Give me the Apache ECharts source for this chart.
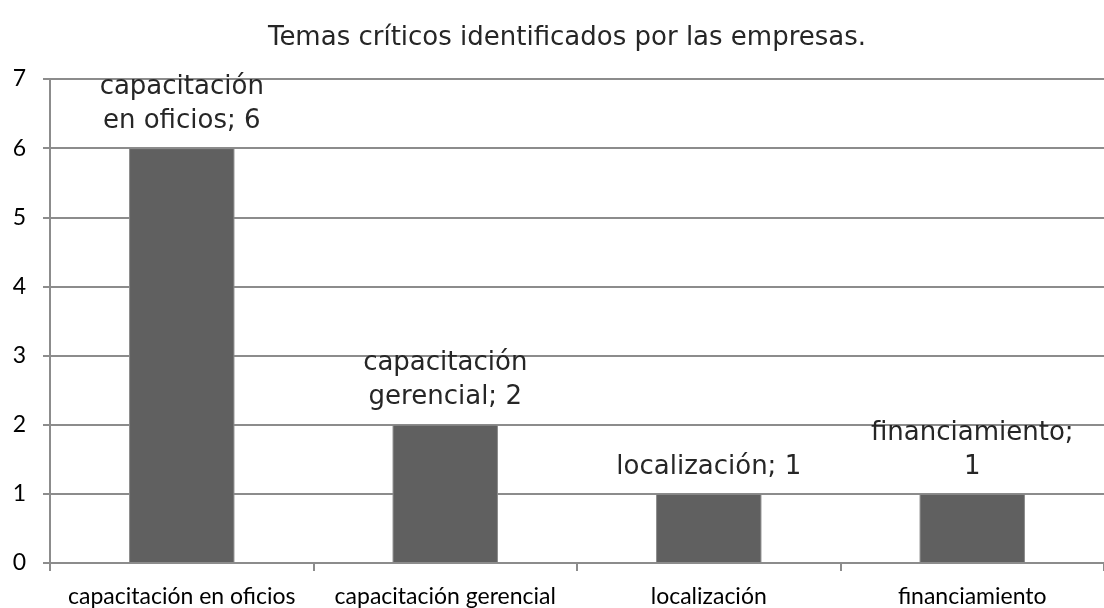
<!DOCTYPE html>
<html>
<head>
<meta charset="utf-8">
<script src="https://cdn.jsdelivr.net/npm/echarts@6/dist/echarts.min.js"></script>
<style>
  html, body { margin: 0; padding: 0; background: #fff; }
  #chart { width: 1104px; height: 608px; }
</style>
</head>
<body>
<div id="chart"></div>
<script>
var titulo = 'Temas críticos identificados por las empresas.';
var categorias = ['capacitación en oficios', 'capacitación gerencial', 'localización', 'financiamiento'];
var valores = [6, 2, 1, 1];
var etiquetas = ['capacitación\nen oficios; ', 'capacitación\ngerencial; ', 'localización; ', 'financiamiento;\n'];
var ejeY = { min: 0, max: 7, interval: 1 };

var myChart = echarts.init(document.getElementById('chart'));

var option = {
  animation: false,
  title: {
    text: titulo,
    left: 562,
    top: 20,
    textAlign: 'center',
    textStyle: {
      fontFamily: 'DejaVu Sans',
      fontWeight: 'normal',
      fontSize: 26,
      color: '#262626'
    }
  },
  grid: {
    left: 50,
    right: -10,
    top: 79,
    bottom: 45,
    containLabel: false
  },
  xAxis: {
    type: 'category',
    data: categorias,
    axisLine: { lineStyle: { color: '#8c8c8c', width: 2 } },
    axisTick: { show: true, length: 8, lineStyle: { color: '#8c8c8c', width: 2 } },
    axisLabel: {
      interval: 0,
      margin: 22,
      fontFamily: 'Lato',
      fontSize: 23,
      color: '#000'
    }
  },
  yAxis: {
    type: 'value',
    min: ejeY.min,
    max: ejeY.max,
    interval: ejeY.interval,
    axisLine: { show: true, lineStyle: { color: '#8c8c8c', width: 2 } },
    axisTick: { show: true, length: 7, lineStyle: { color: '#8c8c8c', width: 2 } },
    splitLine: { lineStyle: { color: '#8c8c8c', width: 2 } },
    axisLabel: {
      margin: 24,
      fontFamily: 'Lato',
      fontSize: 23,
      color: '#000'
    }
  },
  series: [
    {
      type: 'bar',
      data: valores,
      barWidth: '40%',
      itemStyle: { color: '#606060', borderColor: '#8c8c8c', borderWidth: 1 },
      label: {
        show: true,
        position: 'top',
        distance: 10,
        fontFamily: 'DejaVu Sans',
        fontSize: 26,
        lineHeight: 34,
        color: '#262626',
        formatter: function (p) {
          return etiquetas[p.dataIndex] + p.value;
        }
      }
    }
  ]
};

myChart.setOption(option);
</script>
</body>
</html>
